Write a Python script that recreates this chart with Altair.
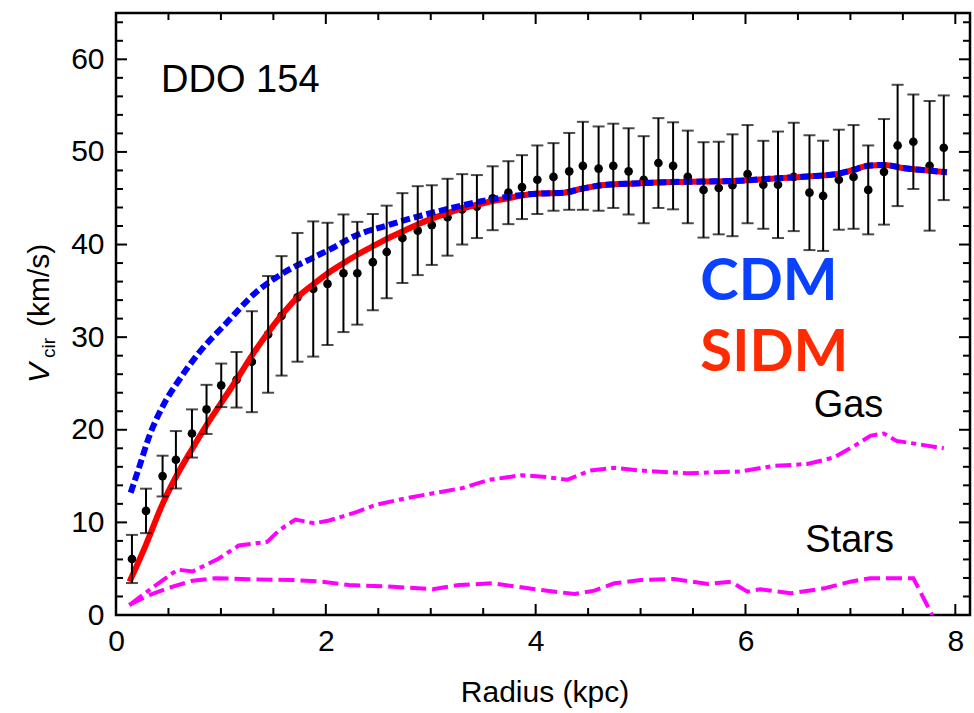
import altair as alt
import pandas as pd

# ---------------- data ----------------
R = [0.152, 0.286, 0.444, 0.571, 0.724, 0.863, 1.003, 1.149, 1.295, 1.45, 1.578, 1.73, 1.88, 2.016,
     2.168, 2.30, 2.448, 2.58, 2.73, 2.876, 3.01, 3.16, 3.30, 3.44, 3.59, 3.74, 3.87, 4.016,
     4.17, 4.32, 4.45, 4.60, 4.74, 4.886, 5.03, 5.17, 5.31, 5.45, 5.60, 5.745, 5.876, 6.02,
     6.17, 6.31, 6.46, 6.61, 6.74, 6.89, 7.03, 7.17, 7.32, 7.45, 7.60, 7.755, 7.89]
V = [6.05, 11.24, 15.0, 16.76, 19.6, 22.2, 24.8, 25.4, 27.35, 30.3, 32.3, 34.3, 35.2, 35.75,
     36.9, 36.9, 38.1, 39.2, 40.7, 41.5, 42.1, 42.95, 43.8, 44.1, 45.0, 45.6, 46.2, 47.0,
     47.3, 47.9, 48.5, 48.2, 48.5, 47.9, 47.0, 48.8, 48.5, 47.3, 45.9, 46.1, 46.4, 47.6,
     46.45, 46.45, 47.3, 45.6, 45.26, 47.0, 47.3, 45.9, 47.85, 50.7, 51.1, 48.5, 50.45]
ERR = [2.6, 2.4, 2.2, 3.1, 2.6, 2.65, 2.35, 3.0, 5.45, 6.3, 6.45, 6.95, 7.3, 6.6,
       6.35, 5.55, 5.2, 5.0, 4.85, 4.8, 4.3, 4.15, 3.8, 3.4, 3.45, 3.4, 3.45, 3.7,
       3.65, 4.15, 4.75, 4.55, 4.55, 4.65, 4.7, 4.85, 4.7, 5.0, 5.15, 5.0, 5.5, 5.3,
       4.75, 5.75, 5.85, 6.2, 5.95, 5.4, 5.6, 4.8, 5.7, 6.55, 5.1, 7.0, 5.65]

SIDM_R = [0.13, 0.286, 0.444, 0.571, 0.724, 0.863, 1.003, 1.149, 1.295, 1.45, 1.58, 1.73, 1.88,
          2.02, 2.17, 2.30, 2.43, 2.58, 2.73, 2.88, 3.01, 3.16, 3.30, 3.44, 3.59, 3.74, 3.87,
          4.02, 4.27, 4.43, 4.63, 4.95, 5.30, 5.59, 5.95, 6.23, 6.59, 6.86, 7.01, 7.17, 7.33,
          7.48, 7.73, 7.92]
SIDM_V = [3.6, 7.6, 12.0, 14.9, 17.9, 20.5, 22.9, 25.4, 28.0, 30.5, 32.4, 34.3, 35.7,
          36.9, 38.0, 38.9, 39.7, 40.6, 41.4, 42.2, 42.8, 43.4, 43.9, 44.3, 44.7, 45.0, 45.3,
          45.5, 45.6, 46.0, 46.4, 46.6, 46.75, 46.8, 46.9, 47.1, 47.35, 47.6, 48.0, 48.5, 48.6,
          48.3, 48.0, 47.8]

CDM_R = [0.14, 0.222, 0.317, 0.444, 0.603, 0.79, 1.05, 1.33, 1.59, 1.90, 2.06, 2.27, 2.58,
         2.90, 3.22, 3.54, 4.02, 4.27, 4.43, 4.63, 4.95, 5.30, 5.59, 5.95, 6.23, 6.59, 6.86,
         7.01, 7.17, 7.33, 7.48, 7.73, 7.92]
CDM_V = [13.2, 16.0, 19.3, 22.5, 25.4, 28.3, 31.5, 34.8, 36.9, 38.7, 39.6, 40.9, 42.05,
         43.1, 44.0, 44.8, 45.5, 45.6, 46.0, 46.4, 46.6, 46.75, 46.8, 46.9, 47.1, 47.35, 47.6,
         48.0, 48.5, 48.6, 48.3, 48.0, 47.8]

GAS_R = [0.127, 0.317, 0.587, 0.73, 0.98, 1.17, 1.44, 1.56, 1.71, 1.89, 2.03, 2.29, 2.48, 2.76,
         3.05, 3.30, 3.56, 3.87, 4.10, 4.30, 4.52, 4.75, 5.0, 5.44, 5.95, 6.27, 6.59, 6.84,
         7.03, 7.19, 7.32, 7.44, 7.67, 7.89]
GAS_V = [1.08, 2.7, 4.9, 4.7, 6.1, 7.5, 7.9, 9.2, 10.3, 9.9, 10.2, 11.1, 11.9, 12.6,
         13.2, 13.7, 14.6, 15.1, 14.9, 14.6, 15.6, 15.9, 15.6, 15.3, 15.5, 16.1, 16.3, 17.0,
         18.2, 19.35, 19.6, 18.8, 18.4, 18.0]

STARS_R = [0.127, 0.317, 0.54, 0.73, 0.95, 1.27, 1.68, 1.97, 2.22, 2.64, 3.02, 3.27, 3.59,
           4.05, 4.37, 4.56, 4.75, 5.0, 5.32, 5.64, 5.86, 6.02, 6.14, 6.43, 6.75, 7.0, 7.19,
           7.6, 7.78]
STARS_V = [1.08, 2.16, 3.06, 3.7, 3.97, 3.86, 3.78, 3.6, 3.24, 3.06, 2.78, 3.24, 3.42,
           2.7, 2.27, 2.63, 3.42, 3.78, 3.89, 3.35, 3.6, 2.52, 2.78, 2.34, 2.88, 3.6, 3.97,
           3.97, 0.0]

TEXT_LABELS = ["DDO 154", "Gas", "Stars"]
TEXT_R = [0.43, 6.65, 6.57]
TEXT_V = [56.5, 21.4, 6.8]

MODEL_LABELS = ["CDM", "SIDM"]
MODEL_R = [5.57, 5.57]
MODEL_V = [34.05, 26.3]

X_MAJOR = [0, 2, 4, 6, 8]
X_MINOR = [0.5, 1, 1.5, 2.5, 3, 3.5, 4.5, 5, 5.5, 6.5, 7, 7.5]
Y_MAJOR = [0, 10, 20, 30, 40, 50, 60]
Y_MINOR = [2, 4, 6, 8, 12, 14, 16, 18, 22, 24, 26, 28, 32, 34, 36, 38, 42, 44, 46, 48,
           52, 54, 56, 58, 62, 64]

# ---------------- chart ----------------
W, H = 854, 602
X_MAX, Y_MAX = 8.14, 65.0
FONT = "Liberation Sans"
xs = alt.Scale(domain=[0, X_MAX], nice=False, zero=False)
ys = alt.Scale(domain=[0, Y_MAX], nice=False, zero=False)

# label-only axes; the inward ticks are drawn below as rule marks
X_AXIS = alt.Axis(orient="bottom", values=X_MAJOR, ticks=False, tickSize=0, domain=False,
                  grid=False, title=None, labelFont=FONT, labelFontSize=30,
                  labelColor="black", labelPadding=11, labelOverlap=False, labelFlush=False)
Y_AXIS = alt.Axis(orient="left", values=Y_MAJOR, ticks=False, tickSize=0, domain=False,
                  grid=False, title=None, labelFont=FONT, labelFontSize=30,
                  labelColor="black", labelPadding=12, labelOverlap=False)


def X(field):
    return alt.X(field, type="quantitative", scale=xs, axis=X_AXIS)


def Y(field):
    return alt.Y(field, type="quantitative", scale=ys, axis=Y_AXIS)


pts_df = pd.DataFrame({"r": R, "v": V, "lo": [v - e for v, e in zip(V, ERR)],
                       "hi": [v + e for v, e in zip(V, ERR)]})

gas = alt.Chart(pd.DataFrame({"r": GAS_R, "v": GAS_V})).mark_line(
    color="#ff00ff", strokeWidth=4, strokeDash=[16, 5, 5, 5]).encode(x=X("r"), y=Y("v"))

stars = alt.Chart(pd.DataFrame({"r": STARS_R, "v": STARS_V})).mark_line(
    color="#ff00ff", strokeWidth=4, strokeDash=[16, 6], clip=True).encode(x=X("r"), y=Y("v"))

sidm = alt.Chart(pd.DataFrame({"r": SIDM_R, "v": SIDM_V})).mark_line(
    color="#ff0000", strokeWidth=6, interpolate="monotone").encode(x=X("r"), y=Y("v"))

cdm = alt.Chart(pd.DataFrame({"r": CDM_R, "v": CDM_V})).mark_line(
    color="#0000ff", strokeWidth=6, strokeDash=[9, 4], interpolate="monotone").encode(x=X("r"), y=Y("v"))

rules = alt.Chart(pts_df).mark_rule(color="black", strokeWidth=2).encode(
    x=X("r"), y=Y("lo"), y2="hi:Q")

cap_lo = alt.Chart(pts_df).mark_tick(orient="horizontal", size=12, thickness=2, color="black").encode(
    x=X("r"), y=Y("lo"))
cap_hi = alt.Chart(pts_df).mark_tick(orient="horizontal", size=12, thickness=2, color="black").encode(
    x=X("r"), y=Y("hi"))

points = alt.Chart(pts_df).mark_circle(size=75, color="black", opacity=1).encode(
    x=X("r"), y=Y("v"))

# tick lengths expressed in data units of the two scales
KX_MAJ, KX_MIN = 11 * X_MAX / W, 7 * X_MAX / W
KY_MAJ, KY_MIN = 11 * Y_MAX / H, 7 * Y_MAX / H


def yticks(values, a, b):
    return alt.Chart(pd.DataFrame({"t": values})).mark_rule(color="black", strokeWidth=2).encode(
        y=Y("t"),
        x=alt.XDatum(a, type="quantitative", scale=xs, axis=X_AXIS),
        x2=alt.X2Datum(b))


def xticks(values, a, b):
    return alt.Chart(pd.DataFrame({"t": values})).mark_rule(color="black", strokeWidth=2).encode(
        x=X("t"),
        y=alt.YDatum(a, type="quantitative", scale=ys, axis=Y_AXIS),
        y2=alt.Y2Datum(b))


ticks = [
    yticks(Y_MAJOR, 0.0, KX_MAJ), yticks(Y_MINOR, 0.0, KX_MIN),
    yticks(Y_MAJOR, X_MAX - KX_MAJ, X_MAX), yticks(Y_MINOR, X_MAX - KX_MIN, X_MAX),
    xticks(X_MAJOR, 0.0, KY_MAJ), xticks(X_MINOR, 0.0, KY_MIN),
    xticks(X_MAJOR, Y_MAX - KY_MAJ, Y_MAX), xticks(X_MINOR, Y_MAX - KY_MIN, Y_MAX),
]

texts = alt.Chart(pd.DataFrame({"t": TEXT_LABELS, "r": TEXT_R, "v": TEXT_V})).mark_text(
    font=FONT, fontSize=38, align="left", baseline="alphabetic", color="black").encode(
    x=X("r"), y=Y("v"), text="t:N")

models = alt.Chart(pd.DataFrame({"t": MODEL_LABELS, "r": MODEL_R, "v": MODEL_V})).mark_text(
    font="Lato", fontWeight="bold", fontSize=58, align="left", baseline="alphabetic").encode(
    x=X("r"), y=Y("v"), text="t:N",
    color=alt.Color("t:N", scale=alt.Scale(domain=MODEL_LABELS, range=["#0a40ff", "#ff2a00"]),
                    legend=None))

one = pd.DataFrame({"k": [0]})
ytitle_v = alt.Chart(one).mark_text(text="V", font=FONT, fontSize=30, fontStyle="italic",
                                    angle=270, align="left", baseline="alphabetic").encode(
    x=alt.value(-67), y=alt.value(370))
ytitle_sub = alt.Chart(one).mark_text(text="cir", font=FONT, fontSize=19,
                                      angle=270, align="left", baseline="alphabetic").encode(
    x=alt.value(-61), y=alt.value(345))
ytitle_unit = alt.Chart(one).mark_text(text="(km/s)", font=FONT, fontSize=30,
                                       angle=270, align="left", baseline="alphabetic").encode(
    x=alt.value(-67), y=alt.value(314))
xtitle = alt.Chart(one).mark_text(text="Radius (kpc)", font=FONT, fontSize=30,
                                  align="center", baseline="alphabetic").encode(
    x=alt.value(429), y=alt.value(689))

chart = alt.layer(
    points, gas, stars, sidm, cdm, rules, cap_lo, cap_hi, *ticks, texts, models,
    ytitle_v, ytitle_sub, ytitle_unit, xtitle
).properties(
    width=W, height=H,
    autosize=alt.AutoSizeParams(type="none"),
    padding={"left": 116, "top": 13, "right": 4, "bottom": 98},
    background="white",
).configure_view(stroke="black", strokeWidth=2.5)

chart.save("out.html", embed_options={"renderer": "svg", "actions": False})
